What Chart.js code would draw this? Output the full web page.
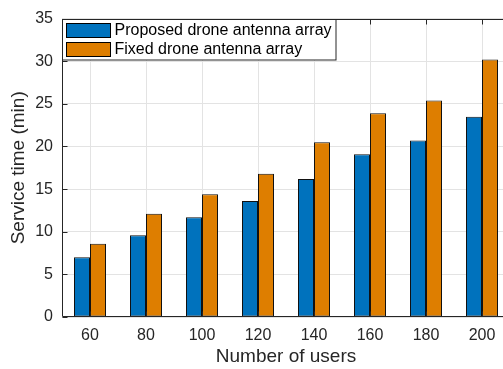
<!DOCTYPE html>
<html><head><meta charset="utf-8">
<script src="https://cdn.jsdelivr.net/npm/chart.js@4/dist/chart.umd.min.js"></script>
<style>
html,body{margin:0;padding:0;overflow:hidden;background:#fff;width:503px;height:369px}
#wrap{position:absolute;left:0;top:0;width:518px;height:369px}
</style>
</head><body><div id="wrap"><canvas id="c" width="518" height="369"></canvas></div>
<script>
const categories = ['60','80','100','120','140','160','180','200'];
const proposed = [7.0, 9.6, 11.7, 13.6, 16.2, 19.1, 20.7, 23.5];
const fixed = [8.6, 12.1, 14.4, 16.8, 20.5, 23.9, 25.4, 30.2];
const seriesNames = ['Proposed drone antenna array', 'Fixed drone antenna array'];
const yMin = 0, yMax = 35, yStep = 5;
const xTitle = 'Number of users';
const yTitle = 'Service time (min)';

const FONT = "'Liberation Sans', Arial, Helvetica, sans-serif";
const AXIS = '#262626';
const GRID = '#e3e3e3';
const COLORS = ['#0072BD', '#DE7E00'];

const frame = {
  id: 'frame',
  afterDatasetsDraw(chart) {
    const ctx = chart.ctx, ca = chart.chartArea;
    const xs = chart.scales.x, ys = chart.scales.y;
    const L = Math.round(ca.left) + 0.5, R = Math.round(ca.right) - 0.5;
    const T = Math.round(ca.top) + 0.5, B = Math.round(ca.bottom) - 0.5;
    ctx.save();
    ctx.strokeStyle = AXIS; ctx.lineWidth = 1;
    ctx.beginPath();
    ctx.moveTo(L, T); ctx.lineTo(R, T); ctx.lineTo(R, B); ctx.lineTo(L, B); ctx.closePath();
    const tl = 5;
    ys.ticks.forEach((t, i) => {
      const y = Math.round(ys.getPixelForTick(i)) + 0.5;
      ctx.moveTo(L, y); ctx.lineTo(L + tl, y);
      ctx.moveTo(R, y); ctx.lineTo(R - tl, y);
    });
    xs.ticks.forEach((t, i) => {
      const x = Math.round(xs.getPixelForTick(i)) + 0.5;
      ctx.moveTo(x, B); ctx.lineTo(x, B - tl);
      ctx.moveTo(x, T); ctx.lineTo(x, T + tl);
    });
    ctx.stroke();

    // legend
    const lx = L, ly = T, lw = 273.5, lh = 40.5;
    ctx.fillStyle = '#fff';
    ctx.fillRect(lx, ly, lw, lh);
    ctx.strokeRect(lx, ly, lw, lh);
    ctx.font = '16px ' + FONT;
    ctx.textBaseline = 'middle';
    ctx.textAlign = 'left';
    chart.data.datasets.forEach((ds, i) => {
      const sy = ly + 4 + i * 19;
      ctx.fillStyle = ds.backgroundColor;
      ctx.fillRect(lx + 4, sy, 44, 14);
      ctx.strokeStyle = '#000';
      ctx.strokeRect(lx + 4, sy, 44, 14);
      ctx.fillStyle = '#000';
      ctx.fillText(ds.label, lx + 52, sy + 7.5);
    });
    ctx.restore();
  }
};

new Chart(document.getElementById('c'), {
  type: 'bar',
  data: {
    labels: categories,
    datasets: [
      { label: seriesNames[0], data: proposed, backgroundColor: COLORS[0], borderColor: '#111', borderWidth: 1, borderSkipped: false },
      { label: seriesNames[1], data: fixed, backgroundColor: COLORS[1], borderColor: '#111', borderWidth: 1, borderSkipped: false }
    ]
  },
  options: {
    responsive: false,
    devicePixelRatio: 1,
    animation: false,
    layout: { padding: { top: 13, right: 8, bottom: 0, left: 0 } },
    datasets: { bar: { categoryPercentage: 32 / 56, barPercentage: 1.0 } },
    plugins: { legend: { display: false }, tooltip: { enabled: false } },
    scales: {
      x: {
        type: 'category',
        offset: true,
        grid: { offset: false, color: GRID, drawTicks: false, lineWidth: 1 },
        border: { display: false },
        ticks: { color: AXIS, font: { family: FONT, size: 16 }, padding: 9, maxRotation: 0 },
        title: { display: true, text: xTitle, color: AXIS, font: { family: FONT, size: 19 }, padding: { top: 0, bottom: 1 } },
        afterFit(s) { s.height = 52; }
      },
      y: {
        min: yMin, max: yMax,
        ticks: { stepSize: yStep, color: AXIS, font: { family: FONT, size: 16 }, padding: 9 },
        grid: { color: GRID, drawTicks: false, lineWidth: 1 },
        border: { display: false },
        title: { display: true, text: yTitle, color: AXIS, font: { family: FONT, size: 19 }, padding: { top: 7, bottom: 0 } },
        afterFit(s) { s.width = 62; }
      }
    }
  },
  plugins: [frame]
});
</script>
</body></html>
